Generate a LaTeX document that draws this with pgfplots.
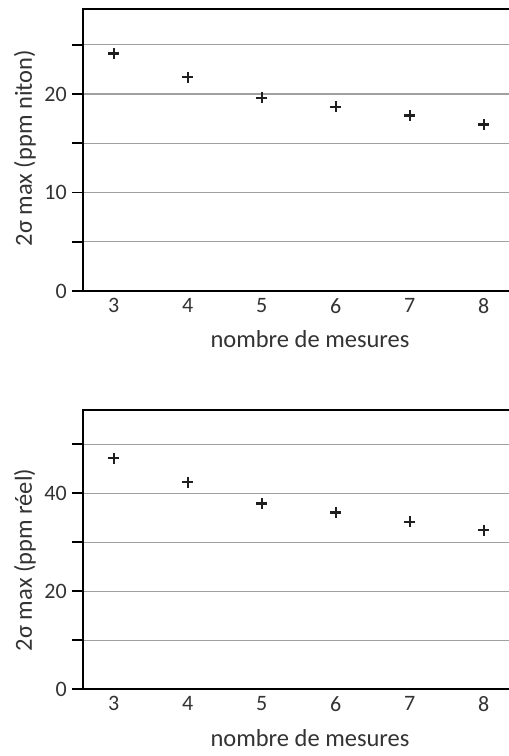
\documentclass[border=0pt]{standalone}
\usepackage{pgfplots}
\pgfplotsset{compat=1.18}
\usepackage{fontspec}
\setmainfont{Carlito}
\definecolor{txt}{HTML}{333333}
\definecolor{grd}{HTML}{A0A0A0}
\pgfplotsset{
  myax/.style={
    scale only axis,
    width=454bp,
    xmin=2.585, xmax=8.72,
    ymin=0,
    axis line style={black, line width=1.7bp},
    xtick={3,4,5,6,7,8},
    xtick style={draw=none},
    ytick pos=left,
    xtick pos=bottom,
    tick align=outside,
    major tick length=11bp,
    ytick style={black, line width=1.7bp},
    ymajorgrids,
    grid style={grd, line width=1.1bp},
    /pgf/number format/assume math mode=true,
    tick label style={font=\fontsize{22bp}{24bp}\selectfont, text=txt},
    yticklabel style={anchor=east, inner sep=0pt, xshift=-5bp},
    xticklabel style={anchor=north, inner sep=0pt, yshift=4bp},
    label style={font=\fontsize{24.5bp}{26bp}\selectfont, text=txt},
  },
  mk/.style={only marks, mark=+, mark size=5.5bp, line width=2.4bp, color=black!88},
}
\begin{document}
\begin{tikzpicture}[x=1bp,y=1bp]
\path[use as bounding box] (0,0) rectangle (509,756);
\begin{axis}[myax,
  at={(83bp,465bp)}, anchor=south west,
  height=281.7bp,
  ymax=28.6,
  ytick={0,5,...,25},
  yticklabels={0,,10,,20,},
  xlabel={nombre de mesures},
  ylabel={2σ max (ppm niton)},
  xlabel style={at={(axis description cs:0.5,-0.199)}, anchor=base},
  ylabel style={at={(axis description cs:-0.1278,0.507)}, anchor=center},
]
\addplot[mk] coordinates {(3,24.1) (4,21.7) (5,19.6) (6,18.7) (7,17.8) (8,16.9)};
\end{axis}
\begin{axis}[myax,
  at={(83bp,66.7bp)}, anchor=south west,
  height=279.3bp,
  ymax=57.0,
  ytick={0,10,...,50},
  yticklabels={0,,20,,40,},
  xlabel={nombre de mesures},
  ylabel={2σ max (ppm réel)},
  xlabel style={at={(axis description cs:0.5,-0.204)}, anchor=base},
  ylabel style={at={(axis description cs:-0.1278,0.463)}, anchor=center},
]
\addplot[mk] coordinates {(3,47.2) (4,42.3) (5,37.9) (6,36.1) (7,34.2) (8,32.5)};
\end{axis}
\end{tikzpicture}
\end{document}
